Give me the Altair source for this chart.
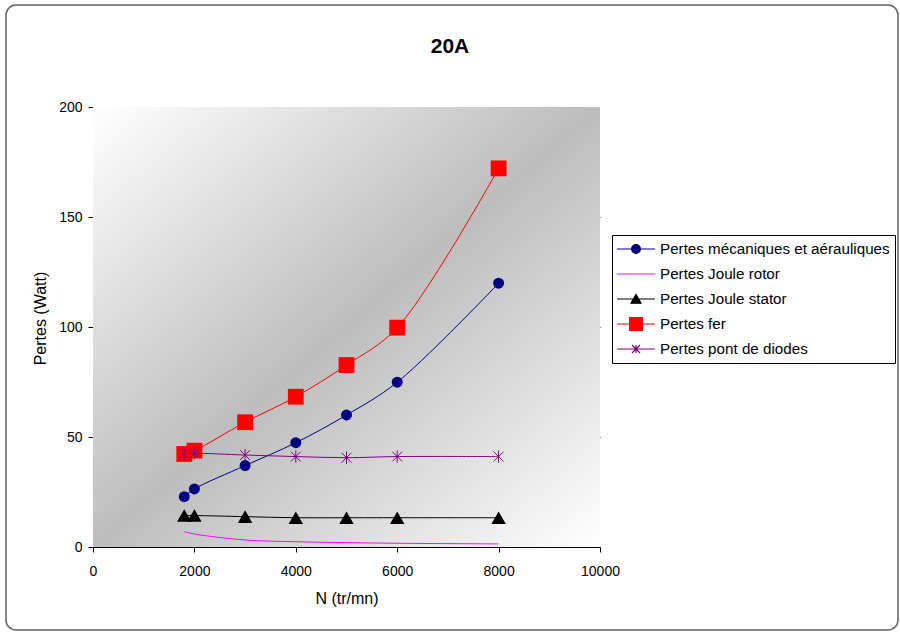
import altair as alt
import pandas as pd

# Rotation speed (tr/mn) at which the losses were evaluated
speeds = [1800, 2000, 3000, 4000, 5000, 6000, 8000]

series_names = [
    "Pertes mécaniques et aérauliques",
    "Pertes Joule rotor",
    "Pertes Joule stator",
    "Pertes fer",
    "Pertes pont de diodes",
]

# Losses (Watt) at 20 A
pertes_meca = [22.9, 26.4, 37.0, 47.4, 60.0, 74.9, 119.9]
pertes_joule_rotor = [7.0, 5.9, 3.2, 2.4, 2.0, 1.7, 1.4]
pertes_joule_stator = [14.3, 14.3, 13.8, 13.3, 13.3, 13.3, 13.3]
pertes_fer = [42.3, 43.8, 56.7, 68.3, 82.7, 99.7, 172.1]
pertes_diodes = [42.3, 42.6, 41.8, 41.1, 40.6, 41.1, 41.1]

x_ticks = [0, 2000, 4000, 6000, 8000, 10000]
y_ticks = [0, 50, 100, 150, 200]

all_values = [pertes_meca, pertes_joule_rotor, pertes_joule_stator, pertes_fer, pertes_diodes]
rows = []
for name, values in zip(series_names, all_values):
    for n, p in zip(speeds, values):
        rows.append({"serie": name, "N": n, "pertes": p})
df = pd.DataFrame(rows)

W, H = 507, 440
FONT = "Liberation Sans"

colors = ["#000080", "#ff00ff", "#000000", "#ff0000", "#800080"]

asterisk = "M0,-1V1M-0.8,-0.8L0.8,0.8M-0.8,0.8L0.8,-0.8"
# marker style per series: (shape, size, filled) or None for a plain line
markers = [
    ("circle", 120, True),
    None,
    ("triangle-up", 210, True),
    ("square", 250, True),
    (asterisk, 150, False),
]

# legend symbols (unit = 8 px): a 38 px line segment with the marker in its middle
legend_shapes = [
    "M-2.375,0H2.375M-0.55,0A0.55,0.55 0 1,0 0.55,0A0.55,0.55 0 1,0 -0.55,0Z",
    "M-2.375,0H2.375",
    "M-2.375,0H2.375M-0.62,0.52L0,-0.56L0.62,0.52Z",
    "M-2.375,0H2.375M-0.8,-0.8H0.8V0.8H-0.8Z",
    "M-2.375,0H2.375M0,-0.5V0.5M-0.5,-0.5L0.5,0.5M-0.5,0.5L0.5,-0.5",
]

x_enc = alt.X(
    "N:Q",
    scale=alt.Scale(domain=[0, 10000], nice=False),
    axis=alt.Axis(
        values=x_ticks,
        format="d",
        labelFlush=False,
        title="N (tr/mn)",
        grid=False,
        titleX=W / 2,
        titleY=51,
        titleBaseline="middle",
    ),
)
y_enc = alt.Y(
    "pertes:Q",
    scale=alt.Scale(domain=[0, 200], nice=False),
    axis=alt.Axis(
        values=y_ticks,
        format="d",
        labelFlush=False,
        title="Pertes (Watt)",
        grid=True,
        gridColor="#000000",
        gridWidth=1,
        gridOpacity={"condition": {"test": "datum.value == 0 || datum.value == 200", "value": 0}, "value": 1},
        titleX=-53,
        titleY=211,
        titleAngle=-90,
        titleAlign="center",
        titleBaseline="middle",
    ),
)

# plot area background: diagonal white -> grey -> white gradient
background = alt.Chart(pd.DataFrame({"k": [0]})).mark_rect(
    fill=alt.LinearGradient(
        gradient="linear",
        x1=0, y1=0, x2=1, y2=1,
        stops=[
            alt.GradientStop(offset=0, color="#ffffff"),
            alt.GradientStop(offset=0.5, color="#bdbdbd"),
            alt.GradientStop(offset=1, color="#ffffff"),
        ],
    )
).encode(x=alt.value(0), x2=alt.value(W), y=alt.value(0), y2=alt.value(H))

# rounded frame around the whole chart
frame = alt.Chart(pd.DataFrame({"k": [0]})).mark_rect(
    fillOpacity=0, stroke="#606060", strokeWidth=1.5, cornerRadius=10
).encode(x=alt.value(6 - 93), x2=alt.value(898 - 93), y=alt.value(5 - 107), y2=alt.value(630 - 107))

layers = [frame, background]
for name, color, marker in zip(series_names, colors, markers):
    base = alt.Chart(df).transform_filter(alt.datum.serie == name)
    layers.append(
        base.mark_line(color=color, strokeWidth=1, interpolate="catmull-rom").encode(x=x_enc, y=y_enc)
    )
    if marker is not None:
        shape, size, filled = marker
        layers.append(
            base.mark_point(
                shape=shape, size=size, filled=filled, color=color,
                opacity=1, strokeWidth=1,
            ).encode(x=x_enc, y=y_enc)
        )

legend_layer = alt.Chart(df).mark_point(opacity=0, filled=True).encode(
    x=x_enc,
    y=y_enc,
    fill=alt.Fill("serie:N", scale=alt.Scale(domain=series_names, range=colors), legend=None),
    stroke=alt.Stroke("serie:N", scale=alt.Scale(domain=series_names, range=colors), legend=None),
    shape=alt.Shape(
        "serie:N",
        scale=alt.Scale(domain=series_names, range=legend_shapes),
        legend=alt.Legend(
            title=None,
            orient="none",
            legendX=519,
            legendY=128,
            symbolSize=256,
            symbolStrokeWidth=1.2,
            symbolOpacity=1,
            symbolOffset=10,
            labelFont=FONT,
            labelFontSize=15.2,
            labelColor="#000000",
            labelOffset=15,
            labelLimit=400,
            rowPadding=7,
            padding=5,
            strokeColor="#000000",
            fillColor="#ffffff",
        ),
    ),
)
layers.append(legend_layer)

chart = (
    alt.layer(*layers)
    .properties(
        width=W,
        height=H,
        autosize=alt.AutoSizeParams(type="none"),
        padding={"left": 93, "top": 107, "right": 300, "bottom": 85},
        title=alt.TitleParams(
            text="20A",
            font=FONT,
            fontSize=21,
            fontWeight="bold",
            color="#000000",
            anchor="middle",
            frame="group",
            dx=103.5,
            offset=-70,
            baseline="alphabetic",
        ),
    )
    .configure(font=FONT, background="#ffffff")
    .configure_view(stroke=None)
    .configure_axis(
        domainColor="#000000",
        domainWidth=1,
        tickColor="#000000",
        tickSize=5,
        labelColor="#000000",
        labelFont=FONT,
        labelFontSize=14,
        titleFont=FONT,
        titleFontSize=16,
        titleFontWeight="normal",
        titleColor="#000000",
    )
    .configure_axisX(labelPadding=12)
    .configure_axisY(labelPadding=6)
)

chart.save("out.html", embed_options={"renderer": "svg", "actions": False})
